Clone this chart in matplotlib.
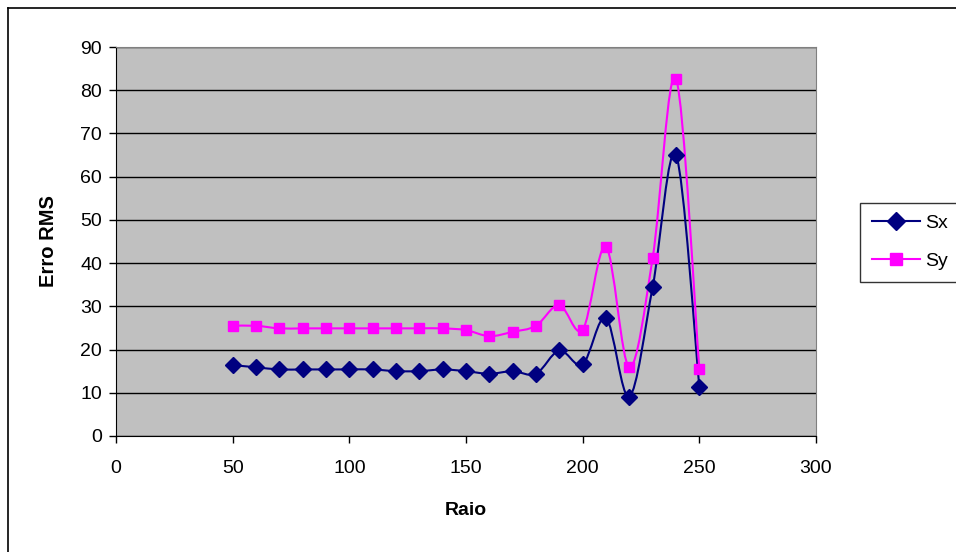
import numpy as np
import matplotlib.pyplot as plt
from matplotlib.path import Path
from matplotlib.patches import PathPatch
from matplotlib.lines import Line2D

plt.rcParams['font.family'] = ['Liberation Sans', 'DejaVu Sans']

# Dados
raio = [50, 60, 70, 80, 90, 100, 110, 120, 130, 140, 150,
        160, 170, 180, 190, 200, 210, 220, 230, 240, 250]
sx = [16.4, 15.9, 15.4, 15.4, 15.4, 15.4, 15.4, 15.0, 15.0, 15.4, 15.0,
      14.4, 15.0, 14.4, 19.8, 16.6, 27.3, 9.1, 34.5, 65.0, 11.4]
sy = [25.5, 25.5, 24.9, 24.9, 24.9, 24.9, 24.9, 24.9, 24.9, 24.9, 24.5,
      23.1, 24.1, 25.5, 30.3, 24.6, 43.8, 15.9, 41.2, 82.7, 15.5]


def curva_suave(x, y):
    # Bezier cubica (estilo Catmull-Rom) passando pelos pontos
    pts = np.column_stack([x, y]).astype(float)
    n = len(pts)
    verts = [pts[0]]
    codes = [Path.MOVETO]
    for i in range(n - 1):
        p0 = pts[i - 1] if i > 0 else pts[i]
        p1 = pts[i]
        p2 = pts[i + 1]
        p3 = pts[i + 2] if i + 2 < n else pts[i + 1]
        c1 = p1 + (p2 - p0) / 6.0
        c2 = p2 - (p3 - p1) / 6.0
        verts += [c1, c2, p2]
        codes += [Path.CURVE4] * 3
    return Path(verts, codes)


fig = plt.figure(figsize=(9.56, 5.52), dpi=100)
ax = fig.add_axes([116 / 956, 1 - 436 / 552, 700 / 956, 389 / 552])
ax.set_facecolor('#C0C0C0')

for serie, cor, marcador, tam in [(sx, '#000080', 'D', 8.5), (sy, '#FF00FF', 's', 7.5)]:
    ax.add_patch(PathPatch(curva_suave(raio, serie), facecolor='none',
                           edgecolor=cor, linewidth=1.5, zorder=3))
    ax.plot(raio, serie, linestyle='none', marker=marcador, markersize=tam,
            color=cor, zorder=4)

ax.set_xlim(0, 300)
ax.set_ylim(0, 90)
ax.set_xticks(range(0, 301, 50))
ax.set_yticks(range(0, 91, 10))
ax.yaxis.grid(True, color='black', linewidth=1)
ax.set_axisbelow(True)
ax.tick_params(direction='out', length=5, width=1, colors='black', labelsize=14)
ax.tick_params(axis='x', pad=12)
ax.tick_params(axis='y', pad=5)

for lado in ['top', 'right']:
    ax.spines[lado].set_color('#808080')
for lado in ['left', 'bottom']:
    ax.spines[lado].set_color('black')

ax.set_xlabel('Raio', fontsize=14, fontweight='bold', labelpad=18)
ax.set_ylabel('Erro RMS', fontsize=14.5, fontweight='bold', labelpad=16)

# Legenda
h_sx = Line2D([], [], color='#000080', marker='D', markersize=9, linewidth=1.5)
h_sy = Line2D([], [], color='#FF00FF', marker='s', markersize=8, linewidth=1.5)
leg = fig.legend([h_sx, h_sy], ['Sx', 'Sy'], loc='upper left',
                 bbox_to_anchor=(860 / 956, 1 - 203 / 552), fontsize=14,
                 frameon=True, fancybox=False, handlelength=2.5,
                 labelspacing=1.05, borderpad=0.6, handletextpad=0.25,
                 borderaxespad=0)
leg.get_frame().set_edgecolor('black')
leg.get_frame().set_linewidth(1)

# Moldura externa do grafico
fig.add_artist(Line2D([8 / 956, 8 / 956], [0, 1 - 8 / 552], color='black', linewidth=1.2))
fig.add_artist(Line2D([8 / 956, 1], [1 - 8 / 552, 1 - 8 / 552], color='black', linewidth=1.2))

fig.savefig('out.png', dpi=100)
